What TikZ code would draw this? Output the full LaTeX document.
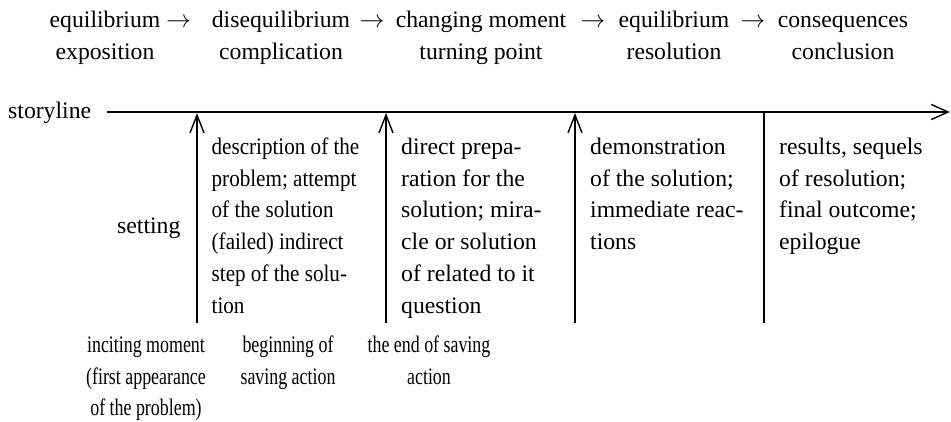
\documentclass[tikz,border=0pt]{standalone}
\usepackage{fontspec}
\setmainfont{Liberation Serif}
\newfontfamily\condA[FakeStretch=0.89]{Liberation Serif}
\newfontfamily\condB[FakeStretch=0.755]{Liberation Serif}
\usetikzlibrary{arrows.meta}
\newcommand\bodyfs{\fontsize{23.7}{31.8}\selectfont}
\tikzset{
  txt/.style={inner sep=0pt, font=\bodyfs, align=left, anchor=north west},
  ctxt/.style={inner sep=0pt, font=\bodyfs, align=center, anchor=north},
  arrtxt/.style={inner sep=0pt, font=\bodyfs, anchor=base},
  axis/.style={line width=1.5pt, -{Straight Barb[length=17pt,width=15pt,line width=1.4pt]}},
  uparrow/.style={line width=1.5pt, -{Straight Barb[length=18pt,width=14pt,line width=1.4pt]}},
  divider/.style={line width=1.5pt}
}
\begin{document}
\begin{tikzpicture}[x=1pt,y=-1pt]
\useasboundingbox (0,0) rectangle (951,421);
% top row (first baseline at 27)
\node[ctxt] (c1) at (105,4.74) {\strut equilibrium\\exposition};
\node[arrtxt] (a1) at (178.5,27) {$\rightarrow$};
\node[ctxt] (c2) at (281,4.74) {\strut disequilibrium\\complication};
\node[arrtxt] (a2) at (372,27) {$\rightarrow$};
\node[ctxt] (c3) at (481,4.74) {\strut changing moment\\turning point};
\node[arrtxt] (a3) at (593,27) {$\rightarrow$};
\node[ctxt] (c4) at (674,4.74) {\strut equilibrium\\resolution};
\node[arrtxt] (a4) at (753,27) {$\rightarrow$};
\node[ctxt] (c5) at (843,4.74) {\strut consequences\\conclusion};
% storyline
\node[inner sep=0pt, font=\bodyfs, anchor=base west] (sl) at (8,118) {storyline};
\coordinate (s0) at (107,112);
\coordinate (s1) at (950,112);
\draw[axis] (s0) -- (s1);
% vertical connectors
\coordinate (b1) at (197,323); \coordinate (t1) at (197,113);
\coordinate (b2) at (386,323); \coordinate (t2) at (386,113);
\coordinate (b3) at (575,323); \coordinate (t3) at (575,113);
\coordinate (b4) at (764,323); \coordinate (t4) at (764,112);
\draw[uparrow] (b1) -- (t1);
\draw[uparrow] (b2) -- (t2);
\draw[uparrow] (b3) -- (t3);
\draw[divider] (b4) -- (t4);
% text blocks (first baseline at 154)
\node[inner sep=0pt, font=\bodyfs, anchor=base west] (set) at (117,233.5) {setting};
\node[txt, font=\bodyfs\condA] (p1) at (211.5,131.74) {\strut description of the\\problem; attempt\\of the solution\\(failed) indirect\\step of the solu-\\tion};
\node[txt] (p2) at (401,131.74) {\strut direct prepa-\\ration for the\\solution; mira-\\cle or solution\\of related to it\\question};
\node[txt] (p3) at (590,131.74) {\strut demonstration\\of the solution;\\immediate reac-\\tions};
\node[txt] (p4) at (779,131.74) {\strut results, sequels\\of resolution;\\final outcome;\\epilogue};
% bottom labels (first baseline at 352)
\node[ctxt, font=\bodyfs\condB] (l1) at (146,329.74) {\strut inciting moment\\(first appearance\\of the problem)};
\node[ctxt, font=\bodyfs\condB] (l2) at (288,329.74) {\strut beginning of\\saving action};
\node[ctxt, font=\bodyfs\condB] (l3) at (429,329.74) {\strut the end of saving\\action};
\end{tikzpicture}
\end{document}
